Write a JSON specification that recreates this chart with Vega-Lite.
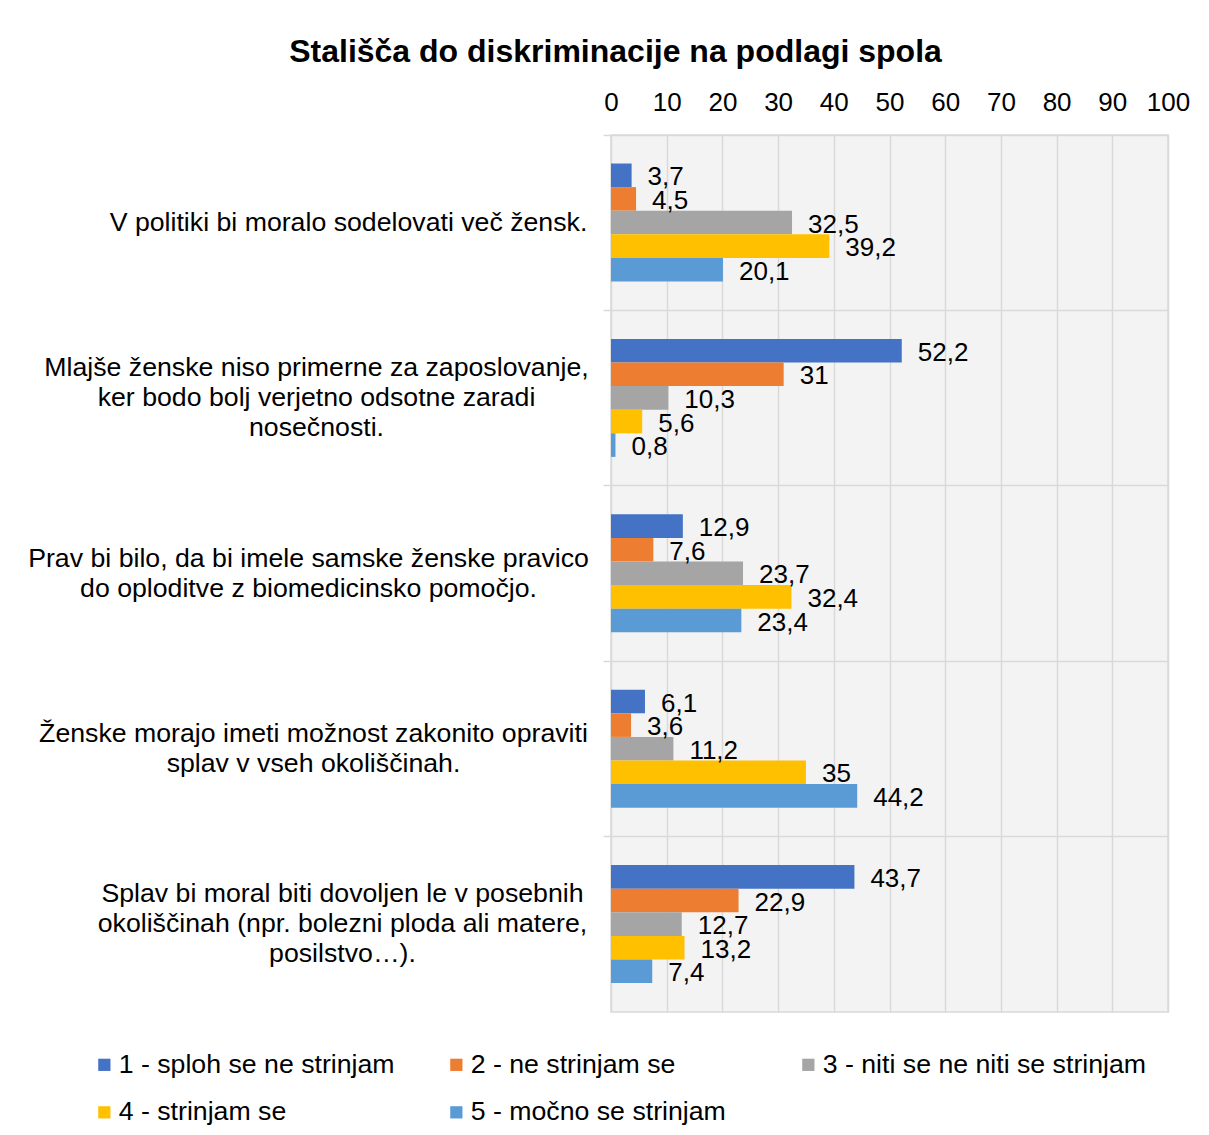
{
  "$schema": "https://vega.github.io/schema/vega-lite/v6.json",
  "width": 557,
  "height": 877,
  "autosize": {"type": "none"},
  "padding": {"left": 611, "top": 135, "right": 41, "bottom": 123},
  "background": "#ffffff",
  "title": {
    "text": "Stališča do diskriminacije na podlagi spola",
    "anchor": "middle",
    "frame": "group",
    "dx": -274,
    "offset": 20,
    "font": "Liberation Sans",
    "fontSize": 32,
    "fontWeight": "bold",
    "color": "#000000"
  },
  "data": {
    "values": [
      {"q": "V politiki bi moralo sodelovati več žensk.", "s": "1 - sploh se ne strinjam", "v": 3.7},
      {"q": "V politiki bi moralo sodelovati več žensk.", "s": "2 - ne strinjam se", "v": 4.5},
      {"q": "V politiki bi moralo sodelovati več žensk.", "s": "3 - niti se ne niti se strinjam", "v": 32.5},
      {"q": "V politiki bi moralo sodelovati več žensk.", "s": "4 - strinjam se", "v": 39.2},
      {"q": "V politiki bi moralo sodelovati več žensk.", "s": "5 - močno se strinjam", "v": 20.1},
      {"q": "Mlajše ženske niso primerne za zaposlovanje,|ker bodo bolj verjetno odsotne zaradi|nosečnosti.", "s": "1 - sploh se ne strinjam", "v": 52.2},
      {"q": "Mlajše ženske niso primerne za zaposlovanje,|ker bodo bolj verjetno odsotne zaradi|nosečnosti.", "s": "2 - ne strinjam se", "v": 31},
      {"q": "Mlajše ženske niso primerne za zaposlovanje,|ker bodo bolj verjetno odsotne zaradi|nosečnosti.", "s": "3 - niti se ne niti se strinjam", "v": 10.3},
      {"q": "Mlajše ženske niso primerne za zaposlovanje,|ker bodo bolj verjetno odsotne zaradi|nosečnosti.", "s": "4 - strinjam se", "v": 5.6},
      {"q": "Mlajše ženske niso primerne za zaposlovanje,|ker bodo bolj verjetno odsotne zaradi|nosečnosti.", "s": "5 - močno se strinjam", "v": 0.8},
      {"q": "Prav bi bilo, da bi imele samske ženske pravico|do oploditve z biomedicinsko pomočjo.", "s": "1 - sploh se ne strinjam", "v": 12.9},
      {"q": "Prav bi bilo, da bi imele samske ženske pravico|do oploditve z biomedicinsko pomočjo.", "s": "2 - ne strinjam se", "v": 7.6},
      {"q": "Prav bi bilo, da bi imele samske ženske pravico|do oploditve z biomedicinsko pomočjo.", "s": "3 - niti se ne niti se strinjam", "v": 23.7},
      {"q": "Prav bi bilo, da bi imele samske ženske pravico|do oploditve z biomedicinsko pomočjo.", "s": "4 - strinjam se", "v": 32.4},
      {"q": "Prav bi bilo, da bi imele samske ženske pravico|do oploditve z biomedicinsko pomočjo.", "s": "5 - močno se strinjam", "v": 23.4},
      {"q": "Ženske morajo imeti možnost zakonito opraviti|splav v vseh okoliščinah.", "s": "1 - sploh se ne strinjam", "v": 6.1},
      {"q": "Ženske morajo imeti možnost zakonito opraviti|splav v vseh okoliščinah.", "s": "2 - ne strinjam se", "v": 3.6},
      {"q": "Ženske morajo imeti možnost zakonito opraviti|splav v vseh okoliščinah.", "s": "3 - niti se ne niti se strinjam", "v": 11.2},
      {"q": "Ženske morajo imeti možnost zakonito opraviti|splav v vseh okoliščinah.", "s": "4 - strinjam se", "v": 35},
      {"q": "Ženske morajo imeti možnost zakonito opraviti|splav v vseh okoliščinah.", "s": "5 - močno se strinjam", "v": 44.2},
      {"q": "Splav bi moral biti dovoljen le v posebnih|okoliščinah (npr. bolezni ploda ali matere,|posilstvo…).", "s": "1 - sploh se ne strinjam", "v": 43.7},
      {"q": "Splav bi moral biti dovoljen le v posebnih|okoliščinah (npr. bolezni ploda ali matere,|posilstvo…).", "s": "2 - ne strinjam se", "v": 22.9},
      {"q": "Splav bi moral biti dovoljen le v posebnih|okoliščinah (npr. bolezni ploda ali matere,|posilstvo…).", "s": "3 - niti se ne niti se strinjam", "v": 12.7},
      {"q": "Splav bi moral biti dovoljen le v posebnih|okoliščinah (npr. bolezni ploda ali matere,|posilstvo…).", "s": "4 - strinjam se", "v": 13.2},
      {"q": "Splav bi moral biti dovoljen le v posebnih|okoliščinah (npr. bolezni ploda ali matere,|posilstvo…).", "s": "5 - močno se strinjam", "v": 7.4}
    ]
  },
  "encoding": {
    "y": {
      "field": "q",
      "type": "nominal",
      "sort": null,
      "scale": {"paddingInner": 0, "paddingOuter": 0},
      "axis": {
        "title": null,
        "bandPosition": 0,
        "domain": false,
        "ticks": true,
        "tickSize": 8,
        "tickColor": "#d9d9d9",
        "tickWidth": 1.5,
        "grid": true,
        "gridColor": "#d9d9d9",
        "gridWidth": 1.5,
        "labelExpr": "split(datum.label, '|')",
        "labelAlign": "center",
        "labelBaseline": "middle",
        "labelLineHeight": 30,
        "labelFont": "Liberation Sans",
        "labelFontSize": 26.7,
        "labelColor": "#000000",
        "labelLimit": 0,
        "labelOffset": {
          "condition": [
            {"test": "indexof(datum.value, 'V politiki') == 0", "value": 0},
            {"test": "indexof(datum.value, 'Mlajše') == 0", "value": -30},
            {"test": "indexof(datum.value, 'Prav bi') == 0", "value": -15},
            {"test": "indexof(datum.value, 'Ženske') == 0", "value": -15}
          ],
          "value": -30
        },
        "labelPadding": {
          "condition": [
            {"test": "indexof(datum.value, 'V politiki') == 0", "value": 255},
            {"test": "indexof(datum.value, 'Mlajše') == 0", "value": 287},
            {"test": "indexof(datum.value, 'Prav bi') == 0", "value": 295},
            {"test": "indexof(datum.value, 'Ženske') == 0", "value": 290}
          ],
          "value": 261
        }
      }
    },
    "yOffset": {
      "field": "s",
      "type": "nominal",
      "scale": {"paddingInner": 0, "paddingOuter": 0, "range": [28.5, 146.5]}
    },
    "x": {
      "field": "v",
      "type": "quantitative",
      "scale": {"domain": [0, 100], "nice": false, "zero": true},
      "axis": {
        "title": null,
        "orient": "top",
        "values": [0, 10, 20, 30, 40, 50, 60, 70, 80, 90, 100],
        "domain": false,
        "ticks": false,
        "grid": true,
        "gridColor": "#d9d9d9",
        "gridWidth": 1.5,
        "labelFont": "Liberation Sans",
        "labelFontSize": 26,
        "labelColor": "#000000",
        "labelPadding": 20,
        "labelFlush": false
      }
    }
  },
  "layer": [
    {
      "mark": {"type": "bar"},
      "encoding": {
        "color": {
          "field": "s",
          "type": "nominal",
          "scale": {
            "domain": ["1 - sploh se ne strinjam", "2 - ne strinjam se", "3 - niti se ne niti se strinjam", "4 - strinjam se", "5 - močno se strinjam"],
            "range": ["#4472c4", "#ed7d31", "#a5a5a5", "#ffc000", "#5b9bd5"]
          },
          "legend": {
            "title": null,
            "orient": "none",
            "legendX": -520,
            "legendY": 916,
            "direction": "horizontal",
            "columns": 3,
            "gridAlign": "all",
            "columnPadding": -3.5,
            "rowPadding": 20,
            "padding": 0,
            "symbolType": "square",
            "symbolSize": 150,
            "symbolStrokeWidth": 0,
            "symbolOpacity": 1,
            "labelOffset": 1,
            "labelFont": "Liberation Sans",
            "labelFontSize": 26.7,
            "labelColor": "#000000",
            "labelLimit": 0
          }
        }
      }
    },
    {
      "mark": {
        "type": "text",
        "align": "left",
        "baseline": "middle",
        "dx": 16,
        "dy": 2,
        "font": "Liberation Sans",
        "fontSize": 26,
        "color": "#000000"
      },
      "encoding": {
        "text": {"field": "v", "type": "quantitative", "format": ".4~g"}
      }
    }
  ],
  "config": {
    "locale": {
      "number": {"decimal": ",", "thousands": ".", "grouping": [3], "currency": ["", " €"]}
    },
    "view": {"fill": "#f3f3f3", "stroke": "#d9d9d9", "strokeWidth": 1.5}
  }
}
